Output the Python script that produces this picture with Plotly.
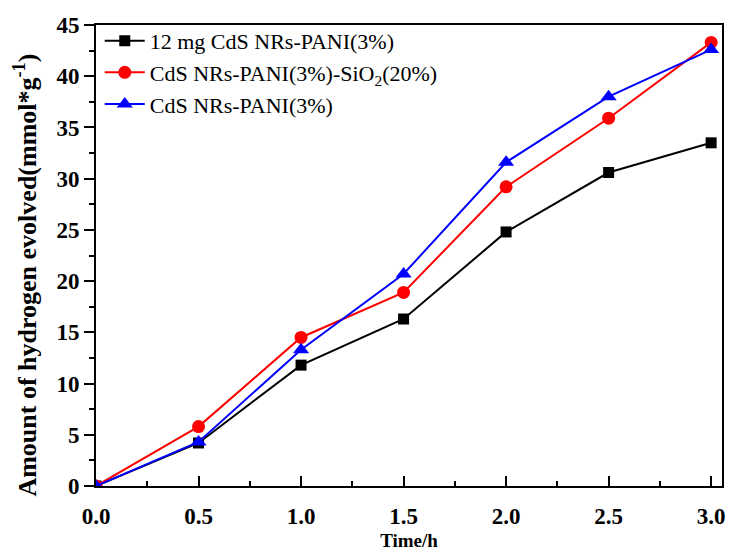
import plotly.graph_objects as go

time_h = [0.0, 0.5, 1.0, 1.5, 2.0, 2.5, 3.0]
s_12mg = [0.0, 4.2, 11.8, 16.3, 24.8, 30.6, 33.5]
s_sio2 = [0.0, 5.8, 14.5, 18.9, 29.2, 35.9, 43.3]
s_pani = [0.0, 4.3, 13.3, 20.7, 31.6, 38.0, 42.6]
x_ticks = [0, 0.5, 1.0, 1.5, 2.0, 2.5, 3.0]
x_ticklabels = ["0.0", "0.5", "1.0", "1.5", "2.0", "2.5", "3.0"]
names = ["12 mg CdS NRs-PANI(3%)",
         "CdS NRs-PANI(3%)-SiO<sub>2</sub>(20%)",
         "CdS NRs-PANI(3%)"]
y_title = "<b>Amount of hydrogen evolved(mmol*g<sup>-1</sup>)</b>"
x_title = "<b>Time/h</b>"

fig = go.Figure()
fig.add_trace(go.Scatter(x=time_h, y=s_12mg, name=names[0], mode="lines+markers",
                         line=dict(color="black", width=2),
                         marker=dict(symbol="square", size=11, color="black")))
fig.add_trace(go.Scatter(x=time_h, y=s_sio2, name=names[1], mode="lines+markers",
                         line=dict(color="red", width=2),
                         marker=dict(symbol="circle", size=13, color="red")))
fig.add_trace(go.Scatter(x=time_h, y=s_pani, name=names[2], mode="lines+markers",
                         line=dict(color="blue", width=2),
                         marker=dict(symbol="triangle-up", size=14, color="blue")))

font = "Liberation Serif, Times New Roman, serif"
fig.update_layout(
    width=731, height=554,
    margin=dict(l=96, r=6, t=25, b=63),
    plot_bgcolor="white", paper_bgcolor="white",
    font=dict(family=font, color="black"),
    legend=dict(x=0.006, y=1.011, xanchor="left", yanchor="top",
                bgcolor="rgba(0,0,0,0)", font=dict(size=22, family=font),
                tracegroupgap=0, itemwidth=40),
    showlegend=True,
)
fig.update_xaxes(range=[0, 3.053], tickvals=x_ticks, ticktext=x_ticklabels,
                 ticks="inside", ticklen=10, tickwidth=2, tickcolor="black",
                 minor=dict(dtick=0.25, ticks="inside", ticklen=5, tickwidth=2, tickcolor="black"),
                 showline=True, linewidth=2, linecolor="black", mirror=True,
                 showgrid=False, zeroline=False, ticklabelstandoff=8,
                 tickfont=dict(size=23, family=font, weight="bold"),
                 title=dict(text=x_title, font=dict(size=19, family=font), standoff=6))
fig.update_yaxes(range=[0, 45], dtick=5,
                 ticks="outside", ticklen=10, tickwidth=2, tickcolor="black",
                 minor=dict(dtick=2.5, ticks="outside", ticklen=5, tickwidth=2, tickcolor="black"),
                 showline=True, linewidth=2, linecolor="black", mirror=True,
                 showgrid=False, zeroline=False,
                 tickfont=dict(size=23, family=font, weight="bold"))
fig.add_annotation(text=y_title, textangle=-90, showarrow=False,
                   xref="paper", yref="paper", x=-0.113, y=0.457,
                   xanchor="center", yanchor="middle",
                   font=dict(size=26, family=font, color="black"))

fig.write_html("out.html", config={"displayModeBar": False},
               post_script="document.body.style.margin='0';document.body.style.overflow='hidden';")
